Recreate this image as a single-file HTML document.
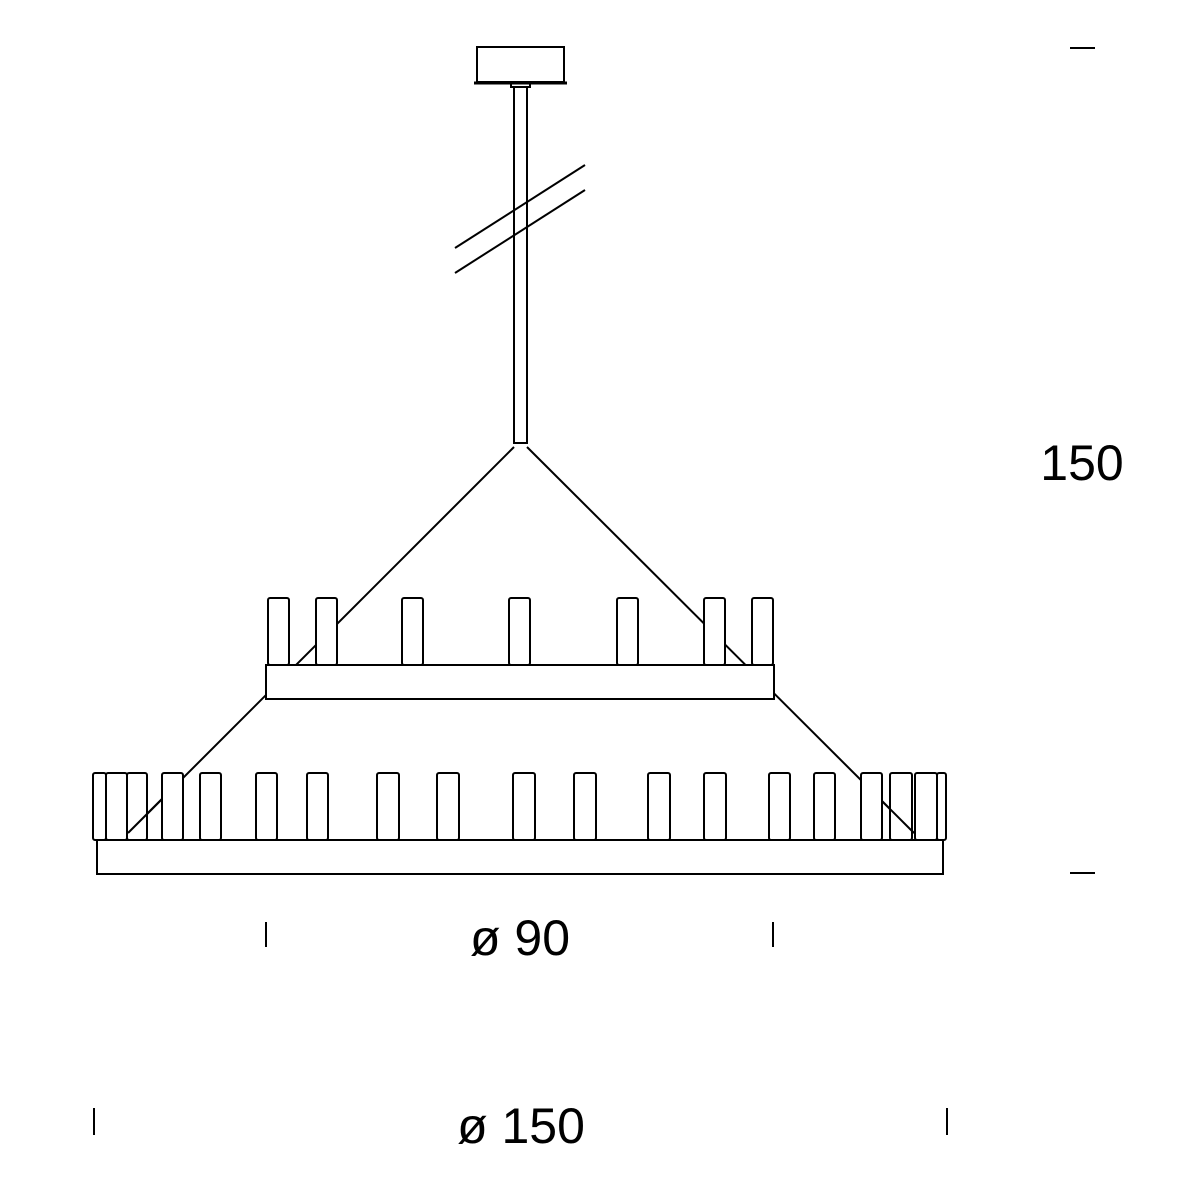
<!DOCTYPE html>
<html><head><style>body{margin:0;background:#fff}svg{display:block}</style></head><body>
<svg width="1200" height="1200" viewBox="0 0 1200 1200" xmlns="http://www.w3.org/2000/svg">
<g fill="none" stroke="#000" stroke-width="2">
<rect x="477" y="47" width="87" height="35" fill="#fff"/>
<line x1="474" y1="83" x2="567" y2="83" stroke-width="3"/>
<rect x="511" y="83" width="19" height="4"/>
<line x1="514" y1="87" x2="514" y2="444"/>
<line x1="527" y1="87" x2="527" y2="444"/>
<line x1="514" y1="443" x2="527" y2="443"/>
<line x1="455" y1="248" x2="585" y2="165"/>
<line x1="455" y1="273" x2="585" y2="190"/>
<line x1="514" y1="447" x2="128" y2="833"/>
<line x1="527" y1="447" x2="914" y2="833"/>
<rect x="266" y="665" width="508" height="34" fill="#fff"/>
<rect x="97" y="840" width="846" height="34" fill="#fff"/>
</g>
<g fill="#fff" stroke="#000" stroke-width="2">
<rect x="268" y="598" width="21" height="67" rx="2"/>
<rect x="316" y="598" width="21" height="67" rx="2"/>
<rect x="402" y="598" width="21" height="67" rx="2"/>
<rect x="509" y="598" width="21" height="67" rx="2"/>
<rect x="617" y="598" width="21" height="67" rx="2"/>
<rect x="704" y="598" width="21" height="67" rx="2"/>
<rect x="752" y="598" width="21" height="67" rx="2"/>
</g>
<g fill="#fff" stroke="#000" stroke-width="2">
<rect x="93" y="773" width="13" height="67" rx="2"/>
<rect x="106" y="773" width="21" height="67" rx="2"/>
<rect x="127" y="773" width="20" height="67" rx="2"/>
<rect x="162" y="773" width="21" height="67" rx="2"/>
<rect x="200" y="773" width="21" height="67" rx="2"/>
<rect x="256" y="773" width="21" height="67" rx="2"/>
<rect x="307" y="773" width="21" height="67" rx="2"/>
<rect x="377" y="773" width="22" height="67" rx="2"/>
<rect x="437" y="773" width="22" height="67" rx="2"/>
<rect x="513" y="773" width="22" height="67" rx="2"/>
<rect x="574" y="773" width="22" height="67" rx="2"/>
<rect x="648" y="773" width="22" height="67" rx="2"/>
<rect x="704" y="773" width="22" height="67" rx="2"/>
<rect x="769" y="773" width="21" height="67" rx="2"/>
<rect x="814" y="773" width="21" height="67" rx="2"/>
<rect x="861" y="773" width="21" height="67" rx="2"/>
<rect x="890" y="773" width="22" height="67" rx="2"/>
<rect x="915" y="773" width="22" height="67" rx="2"/>
<rect x="937" y="773" width="9" height="67" rx="2"/>
</g>
<g fill="none" stroke="#000" stroke-width="2">
<line x1="128" y1="833" x2="162" y2="799"/>
<line x1="882" y1="801" x2="914" y2="833"/>
</g>
<g stroke="#000" stroke-width="2">
<line x1="1070" y1="48" x2="1095" y2="48"/>
<line x1="1070" y1="873" x2="1095" y2="873"/>
<line x1="266" y1="922" x2="266" y2="947"/>
<line x1="773" y1="922" x2="773" y2="947"/>
<line x1="94" y1="1108" x2="94" y2="1135"/>
<line x1="947" y1="1108" x2="947" y2="1135"/>
</g>
<g font-family="Liberation Sans, sans-serif" font-size="50" fill="#000" text-anchor="middle">
<text x="1082" y="480">150</text>
<text x="520" y="955">ø 90</text>
<text x="521" y="1143">ø 150</text>
</g>
</svg>
</body></html>
